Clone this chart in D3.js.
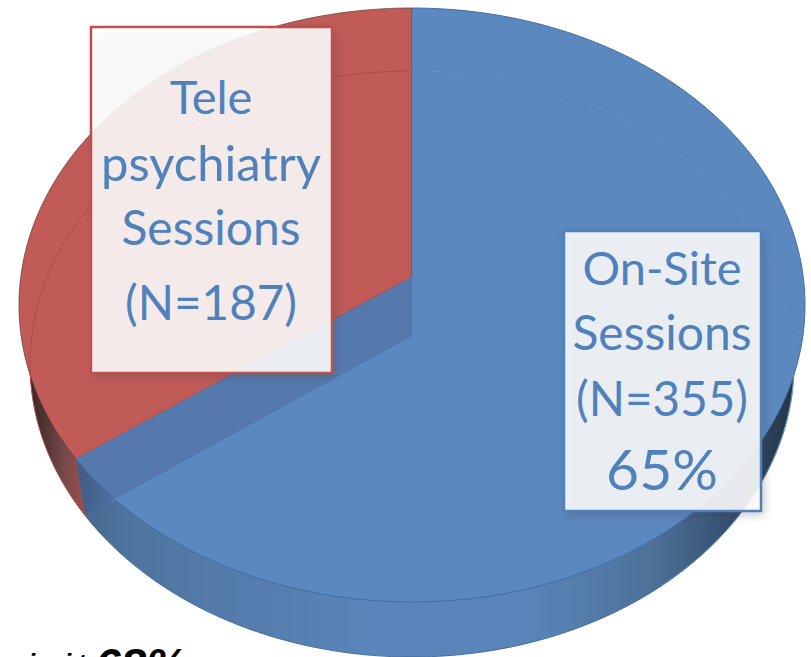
<!DOCTYPE html>
<html><head><meta charset="utf-8">
<script src="https://cdn.jsdelivr.net/npm/d3@7/dist/d3.min.js"></script>
<style>html,body{margin:0;padding:0;background:#fff;overflow:hidden}svg{display:block}text{font-family:Lato,"Open Sans",sans-serif}</style>
</head><body><svg id="c" width="811" height="657"></svg>
<script>
const categories = ["On-Site Sessions", "Telepsychiatry Sessions"];
const sessions = [355, 187];
const sliceColors = ["#5b88bf", "#c05b58"];
const labelLines = [["On-Site","Sessions","(N=355)","65%"],["Tele","psychiatry","Sessions","(N=187)"]];

const svg = d3.select("#c");
const defs = svg.append("defs");
function grad(id, stops, x1=0, x2=1){
  const g = defs.append("linearGradient").attr("id",id).attr("gradientUnits","objectBoundingBox")
    .attr("x1",x1).attr("x2",x2).attr("y1",0).attr("y2",0);
  stops.forEach(s=>g.append("stop").attr("offset",s[0]).attr("stop-color",s[1]));
}
const f = defs.append("filter").attr("id","sh").attr("x","-10%").attr("y","-10%").attr("width","125%").attr("height","125%");
f.append("feGaussianBlur").attr("stdDeviation",5);

const arcs = d3.pie().sort(null).startAngle(0).endAngle(2*Math.PI)(sessions);
const split = arcs[0].endAngle;
// perspective: the drawn disc is foreshortened, so pie angles shift a little on screen
const persp = d3.scaleLinear().domain([0, split, 2*Math.PI]).range([0, split*1.0125, 2*Math.PI]);
const faceTop = {cx:412, cy:305, rx:393, ry:297, ax:412, ay:277};
const faceLow = {cx:412, cy:364, rx:382, ry:293, ax:412, ay:337};
const pt = (e,a)=>[e.cx+e.rx*Math.sin(persp(a)), e.cy-e.ry*Math.cos(persp(a))];
const line = d3.line();
function arcPts(e,a0,a1){ return d3.range(0,121).map(i=>pt(e,a0+(a1-a0)*i/120)); }
function wedge(e,a0,a1){ return line([[e.ax,e.ay],...arcPts(e,a0,a1)])+"Z"; }

grad("blueSide",[[0,"#47688f"],[0.06,"#4f749f"],[0.4,"#5a85ba"],[0.62,"#5a85ba"],[0.8,"#4d7199"],[0.92,"#344c6a"],[1,"#263648"]]);
grad("redSide",[[0,"#38262a"],[0.035,"#4e3333"],[0.09,"#75494a"],[0.16,"#a85250"],[1,"#b05654"]]);
grad("corner",[[0,"#415a80"],[1,"#4e71a4"]]);

const a0 = arcs[0], a1 = arcs[1];
// side walls (far face)
svg.append("path").attr("d",wedge(faceLow,a1.startAngle,a1.endAngle)).attr("fill","url(#redSide)");
svg.append("path").attr("d",wedge(faceLow,a0.startAngle,a0.endAngle)).attr("fill","url(#blueSide)");
// main faces
svg.append("path").attr("d",wedge(faceTop,a1.startAngle,a1.endAngle)).attr("fill",sliceColors[1]).attr("stroke","#5c3533").attr("stroke-width",0.7);
svg.append("path").attr("d",wedge(faceTop,a0.startAngle,a0.endAngle)).attr("fill",sliceColors[0]);
// cut wall seen through the blue slice
const c1 = pt(faceTop,split), c2 = pt(faceLow,split);
svg.append("path").attr("d",line([[faceTop.ax,faceTop.ay],c1,c2,[faceLow.ax,faceLow.ay]])+"Z").attr("fill","#5679ad");
// where the lower cut edge crosses the rim of the upper face
const onCut = t=>[faceLow.ax+(c2[0]-faceLow.ax)*t, faceLow.ay+(c2[1]-faceLow.ay)*t];
const inTop = p=>((p[0]-faceTop.cx)/faceTop.rx)**2+((p[1]-faceTop.cy)/faceTop.ry)**2<1;
const cross = onCut(d3.range(0,1,0.002).find(t=>!inTop(onCut(t))) ?? 0.9);
const rim = arcPts(faceTop,0,split).filter(p=>p[0]<cross[0]&&p[1]>faceTop.cy);
// corner of the near face inside the wall
svg.append("path").attr("d",line([c2,cross,...rim])+"Z").attr("fill","url(#corner)");
// outlines
svg.append("path").attr("d",line(arcPts(faceTop,0,split))).attr("fill","none").attr("stroke","#3f6ea3").attr("stroke-width",1);
svg.append("path").attr("d",line(arcPts(faceLow,0,split))).attr("fill","none").attr("stroke","#3e6898").attr("stroke-width",0.9);
svg.append("path").attr("d",line(arcPts(faceLow,0,2.4))).attr("fill","none").attr("stroke","#6f97c8").attr("stroke-width",1);
svg.append("path").attr("d",line(arcPts(faceLow,split,2*Math.PI))).attr("fill","none").attr("stroke","#b04a48").attr("stroke-width",1);
svg.append("path").attr("d",line([[faceLow.ax,faceLow.ay],cross])).attr("fill","none").attr("stroke","#5b90cb").attr("stroke-width",1);

// label boxes
const boxes = [
 {x:564,y:231,w:197,h:280,stroke:"#4f81bd",base:[285,350,416,490],size:[47,48,47.5,57]},
 {x:91,y:27,w:241,h:346,stroke:"#c0504d",base:[114,181,245,320],size:[47,49,48,47.5]}
];
boxes.forEach((b,i)=>{
  const g = svg.append("g");
  g.append("rect").attr("x",b.x+3).attr("y",b.y+4).attr("width",b.w).attr("height",b.h).attr("fill","#3a3a3a").attr("opacity",0.28).attr("filter","url(#sh)");
  g.append("rect").attr("x",b.x).attr("y",b.y).attr("width",b.w).attr("height",b.h)
    .attr("fill","#fff").attr("fill-opacity",0.88).attr("stroke",b.stroke).attr("stroke-width",2.5);
  g.selectAll("text").data(labelLines[i]).join("text")
    .attr("x",b.x+b.w/2-0.5).attr("y",(d,j)=>b.base[j]).attr("text-anchor","middle")
    .attr("font-size",(d,j)=>b.size[j]).attr("fill","#4f81bd").text(d=>d);
});
// clipped fragment of the next element at the picture's bottom edge
svg.append("text").attr("x","28 64 77").attr("y",672).attr("font-size",26).attr("font-weight",700).attr("font-style","italic").style("font-family","'Liberation Sans',sans-serif").attr("fill","#000").text("iit");
svg.append("text").attr("x",95).attr("y",681).attr("font-size",46).attr("font-weight",700).attr("font-style","italic").style("font-family","'Liberation Sans',sans-serif").attr("fill","#000").text("68%");
</script></body></html>
